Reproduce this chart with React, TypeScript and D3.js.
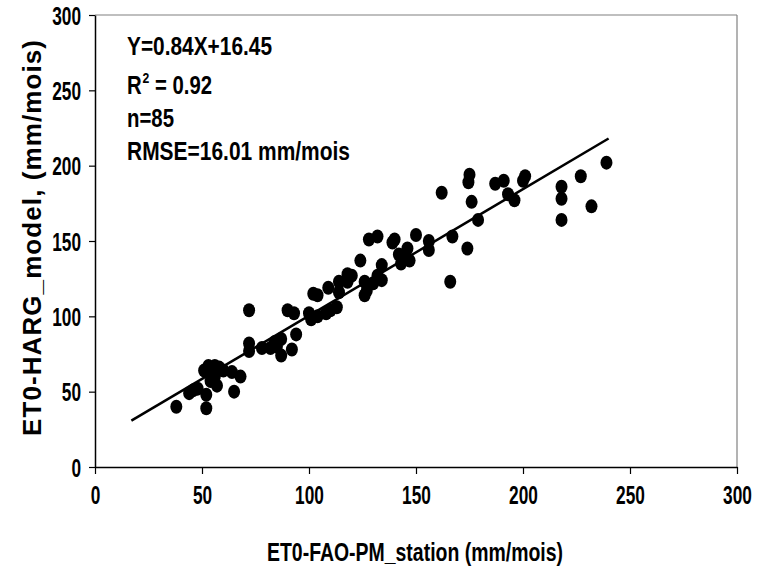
import React, { useEffect, useRef } from "react";
import * as d3 from "d3";

// ET0 FAO-PM station (x) vs ET0 Hargreaves model (y), mm/mois
const stationET0 = [
  38, 44, 48, 52, 52, 51, 53, 56, 56, 57, 60, 64, 65, 68, 54, 46,
  72, 72, 72, 78, 82, 84, 87, 87, 92, 94, 90, 93,
  100, 101, 104, 102, 104, 108, 109, 113, 114, 114, 118, 118, 124, 126, 127, 126,
  128, 132, 134, 132, 134, 139, 140, 142, 146, 143, 147, 150, 156, 156,
  162, 166, 167, 174, 175, 174.5, 176, 179, 187, 191, 193, 196, 200, 201,
  218, 218, 218, 227, 232, 239,
  55, 58, 110, 130, 145, 120, 85,
];
const modelET0 = [
  40, 49, 52, 48, 39, 64, 67, 67, 60, 54, 64, 63, 50, 60, 57, 51,
  104, 82, 77, 79, 79, 83, 85, 74, 78, 88, 104, 102,
  102, 98, 100, 115, 114, 102, 119, 106, 116, 123, 128, 123, 137, 123, 117, 114,
  151, 153, 134, 127, 124, 149, 151, 141, 145, 135, 137, 154, 150, 144,
  182, 123, 153, 145, 194, 189, 176, 164, 188, 190, 181, 177, 190, 193,
  186, 178, 164, 193, 173, 202,
  63, 66, 104, 122, 140, 127, 80,
];

const xTicks = [0, 50, 100, 150, 200, 250, 300];
const yTicks = [0, 50, 100, 150, 200, 250, 300];

const fitSlope = 0.84;
const fitIntercept = 16.45;
const fitRange = [17, 240];

const xTitle = "ET0-FAO-PM_station (mm/mois)";
const yTitle = "ET0-HARG_model, (mm/mois)";
const eqLine = "Y=0.84X+16.45";
const r2Value = " = 0.92";
const nLine = "n=85";
const rmseLine = "RMSE=16.01 mm/mois";

const FONT = "'Liberation Sans Narrow', 'Arial Narrow', 'Liberation Sans', Arial, sans-serif";

export default function App() {
  const ref = useRef<SVGSVGElement>(null);

  useEffect(() => {
    const svg = d3.select(ref.current);
    svg.selectAll("*").remove();

    const x = d3.scaleLinear().domain([0, 300]).range([95, 737]);
    const y = d3.scaleLinear().domain([0, 300]).range([467, 15]);

    // frame top/right (gray)
    svg.append("line").attr("x1", x(0)).attr("x2", x(300)).attr("y1", y(300)).attr("y2", y(300))
      .attr("stroke", "#808080").attr("stroke-width", 1.2);
    svg.append("line").attr("x1", x(300)).attr("x2", x(300)).attr("y1", y(0)).attr("y2", y(300))
      .attr("stroke", "#808080").attr("stroke-width", 1.2);

    // axes
    const gx = svg.append("g").attr("transform", `translate(0,${y(0)})`)
      .call(d3.axisBottom(x).tickValues(xTicks).tickSize(7).tickSizeOuter(0).tickFormat(d3.format("d")));
    const gy = svg.append("g").attr("transform", `translate(${x(0)},0)`)
      .call(d3.axisLeft(y).tickValues(yTicks).tickSize(6).tickSizeOuter(0).tickFormat(d3.format("d")));

    [gx, gy].forEach((g) => {
      g.select(".domain").attr("stroke", "#000").attr("stroke-width", 1.5);
      g.selectAll(".tick line").attr("stroke", "#000").attr("stroke-width", 1.2);
      g.selectAll(".tick text")
        .attr("font-family", FONT)
        .attr("font-size", 25)
        .attr("font-weight", "bold")
        .attr("fill", "#000")
        .attr("lengthAdjust", "spacingAndGlyphs")
        .attr("textLength", (d: any) => String(d).length * 9.6);
    });
    gx.selectAll(".tick text").attr("y", 19).attr("dy", "0.71em");
    gy.selectAll(".tick text").attr("x", -14).attr("dy", "0.36em");

    // points
    svg.append("g").selectAll("ellipse")
      .data(stationET0.map((v, i) => [v, modelET0[i]]))
      .join("ellipse")
      .attr("cx", (d) => x(d[0]))
      .attr("cy", (d) => y(d[1]))
      .attr("rx", 6)
      .attr("ry", 7)
      .attr("fill", "#000");

    // regression line
    const line = d3.line<number>().x((d) => x(d)).y((d) => y(fitSlope * d + fitIntercept));
    svg.append("path").attr("d", line(fitRange)).attr("stroke", "#000").attr("stroke-width", 2.5).attr("fill", "none");

    // annotation
    const ann = svg.append("g").attr("font-family", FONT).attr("font-weight", "bold").attr("fill", "#000");
    ann.append("text").attr("x", 127).attr("y", 55).attr("font-size", 25)
      .attr("textLength", 145).attr("lengthAdjust", "spacingAndGlyphs").text(eqLine);
    const r2 = ann.append("text").attr("x", 127).attr("y", 94).attr("font-size", 25);
    r2.append("tspan").text("R");
    r2.append("tspan").attr("dy", -11).attr("dx", 1).attr("font-size", 15).text("2");
    r2.append("tspan").attr("dy", 11).attr("xml:space", "preserve").text(r2Value);
    r2.attr("textLength", 85).attr("lengthAdjust", "spacingAndGlyphs");
    ann.append("text").attr("x", 127).attr("y", 127).attr("font-size", 25)
      .attr("textLength", 47).attr("lengthAdjust", "spacingAndGlyphs").text(nLine);
    ann.append("text").attr("x", 127).attr("y", 160).attr("font-size", 25)
      .attr("textLength", 223).attr("lengthAdjust", "spacingAndGlyphs").text(rmseLine);

    // axis titles
    svg.append("text").attr("x", 415).attr("y", 561).attr("text-anchor", "middle")
      .attr("font-family", FONT).attr("font-weight", "bold").attr("font-size", 25)
      .attr("textLength", 296).attr("lengthAdjust", "spacingAndGlyphs").text(xTitle);
    svg.append("text").attr("transform", "translate(41,238) rotate(-90)").attr("text-anchor", "middle")
      .attr("font-family", FONT).attr("font-weight", "bold").attr("font-size", 26)
      .attr("textLength", 396).attr("lengthAdjust", "spacing").text(yTitle);
  }, []);

  return (
    <svg
      ref={ref}
      width={757}
      height={571}
      style={{ position: "absolute", left: 0, top: 0, background: "#fff" }}
    />
  );
}
